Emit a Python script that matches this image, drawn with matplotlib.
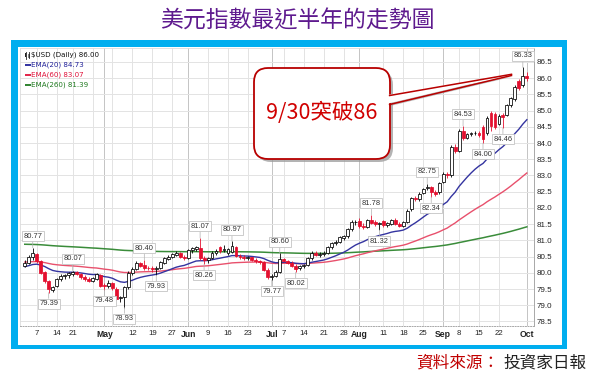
import matplotlib.pyplot as plt
import matplotlib.patches as mpatches
import numpy as np
import pandas as pd

plt.rcParams['font.family'] = ['DejaVu Sans', 'Noto Sans CJK TC']

# trading days shown (Apr 2 .. Oct 1, 2014), US holidays dropped
holidays = ['2014-04-18', '2014-05-26', '2014-07-04', '2014-09-01']
days = pd.bdate_range('2014-04-02', '2014-10-01')
days = days[~days.isin(pd.to_datetime(holidays))]

opens = [80.22, 80.30, 80.48, 80.58, 80.35, 80.02, 79.75, 79.48, 79.58, 79.80,
         79.90, 79.92, 79.96, 80.04, 79.97, 79.88, 79.80, 79.75, 79.82, 79.92,
         79.62, 79.58, 79.68, 79.50, 79.22, 79.25, 79.55, 79.98, 80.12, 80.30,
         80.24, 80.16, 80.14, 80.12, 80.16, 80.30, 80.44, 80.50, 80.56, 80.62,
         80.50, 80.46, 80.70, 80.74, 80.76, 80.45, 80.38, 80.45, 80.62, 80.80,
         80.70, 80.62, 80.64, 80.78, 80.52, 80.48, 80.46, 80.48, 80.40, 80.35,
         80.32, 80.10, 79.86, 79.90, 80.04, 80.42, 80.36, 80.30, 80.22, 80.15,
         80.20, 80.24, 80.45, 80.60, 80.56, 80.58, 80.62, 80.78, 80.92, 80.96,
         81.06, 81.12, 81.34, 81.56, 81.60, 81.45, 81.42, 81.62, 81.56, 81.50,
         81.60, 81.46, 81.50, 81.62, 81.50, 81.44, 81.58, 81.96, 82.30, 82.26,
         82.46, 82.62, 82.64, 82.50, 82.48, 82.80, 83.06, 83.00, 83.88, 83.76,
         84.38, 84.16, 84.28, 84.32, 84.30, 84.50, 84.30, 84.92, 84.90, 84.60,
         84.86, 84.86, 85.18, 85.36, 85.90, 85.78, 86.06]
highs = [80.38, 80.55, 80.77, 80.62, 80.38, 80.05, 79.78, 79.60, 79.85, 79.95,
         79.97, 80.02, 80.07, 80.06, 80.00, 79.92, 79.86, 79.88, 80.00, 79.95,
         79.70, 79.78, 79.72, 79.55, 79.30, 79.60, 80.05, 80.18, 80.36, 80.34,
         80.40, 80.22, 80.20, 80.22, 80.36, 80.50, 80.54, 80.62, 80.66, 80.64,
         80.54, 80.74, 80.80, 80.84, 81.07, 80.52, 80.50, 80.68, 80.72, 80.84,
         80.85, 80.76, 80.97, 80.82, 80.58, 80.55, 80.52, 80.50, 80.45, 80.40,
         80.36, 80.15, 79.95, 80.08, 80.60, 80.46, 80.40, 80.35, 80.26, 80.24,
         80.28, 80.50, 80.66, 80.66, 80.64, 80.66, 80.82, 80.96, 81.02, 81.14,
         81.16, 81.38, 81.62, 81.62, 81.70, 81.52, 81.66, 81.78, 81.62, 81.58,
         81.64, 81.58, 81.66, 81.68, 81.56, 81.60, 81.98, 82.34, 82.36, 82.50,
         82.62, 82.75, 82.68, 82.56, 82.80, 83.10, 83.12, 83.94, 83.98, 84.42,
         84.53, 84.32, 84.34, 84.38, 84.36, 84.56, 84.84, 85.00, 84.96, 84.88,
         84.92, 85.20, 85.42, 85.78, 85.96, 86.33, 86.18]
lows = [80.18, 80.26, 80.40, 80.30, 79.95, 79.70, 79.39, 79.42, 79.55, 79.75,
        79.82, 79.85, 79.90, 79.92, 79.82, 79.76, 79.72, 79.72, 79.78, 79.55,
        79.48, 79.52, 79.48, 79.15, 79.10, 78.93, 79.50, 79.94, 80.08, 80.18,
        80.10, 80.08, 80.04, 79.93, 80.12, 80.26, 80.38, 80.46, 80.52, 80.46,
        80.40, 80.44, 80.62, 80.66, 80.40, 80.26, 80.30, 80.42, 80.56, 80.62,
        80.65, 80.56, 80.60, 80.48, 80.42, 80.40, 80.40, 80.36, 80.30, 80.28,
        80.05, 79.82, 79.77, 79.86, 80.00, 80.32, 80.26, 80.18, 80.02, 80.10,
        80.14, 80.20, 80.40, 80.52, 80.50, 80.52, 80.58, 80.72, 80.86, 80.92,
        81.00, 81.08, 81.30, 81.48, 81.38, 81.36, 81.38, 81.50, 81.44, 81.32,
        81.40, 81.42, 81.46, 81.46, 81.40, 81.40, 81.54, 81.92, 82.20, 82.22,
        82.42, 82.56, 82.34, 82.38, 82.44, 82.76, 82.92, 82.96, 83.70, 83.72,
        84.10, 84.12, 84.22, 84.24, 84.18, 84.00, 84.26, 84.36, 84.44, 84.56,
        84.46, 84.82, 85.12, 85.30, 85.64, 85.74, 85.92]
closes = [80.30, 80.50, 80.60, 80.36, 80.00, 79.75, 79.50, 79.55, 79.80, 79.90,
          79.92, 79.98, 80.02, 79.95, 79.86, 79.80, 79.76, 79.84, 79.95, 79.60,
          79.58, 79.70, 79.52, 79.20, 79.25, 79.55, 80.00, 80.12, 80.30, 80.22,
          80.16, 80.14, 80.12, 80.16, 80.32, 80.46, 80.50, 80.58, 80.62, 80.50,
          80.46, 80.70, 80.76, 80.78, 80.45, 80.38, 80.45, 80.62, 80.68, 80.66,
          80.72, 80.72, 80.82, 80.52, 80.48, 80.46, 80.48, 80.40, 80.35, 80.33,
          80.10, 79.86, 79.90, 80.04, 80.42, 80.36, 80.30, 80.22, 80.12, 80.20,
          80.24, 80.45, 80.60, 80.56, 80.58, 80.62, 80.78, 80.92, 80.96, 81.10,
          81.12, 81.34, 81.56, 81.58, 81.45, 81.42, 81.62, 81.55, 81.50, 81.52,
          81.46, 81.52, 81.62, 81.50, 81.44, 81.56, 81.92, 82.30, 82.26, 82.44,
          82.58, 82.64, 82.50, 82.42, 82.76, 83.06, 83.00, 83.88, 83.76, 84.38,
          84.16, 84.28, 84.30, 84.30, 84.24, 84.12, 84.78, 84.52, 84.48, 84.84,
          84.80, 85.16, 85.38, 85.72, 85.70, 86.08, 86.00]

# EMA values on the first shown day
ema_start = {20: 80.19, 60: 80.33, 260: 80.88}

tick_dates = ['2014-04-07', '2014-04-14', '2014-04-21', '2014-05-01', '2014-05-12',
              '2014-05-19', '2014-05-27', '2014-06-02', '2014-06-09', '2014-06-16',
              '2014-06-23', '2014-07-01', '2014-07-07', '2014-07-14', '2014-07-21',
              '2014-07-28', '2014-08-01', '2014-08-11', '2014-08-18', '2014-08-25',
              '2014-09-02', '2014-09-08', '2014-09-15', '2014-09-22', '2014-10-01']
tick_labels = ['7', '14', '21', 'May', '12', '19', '27', 'Jun', '9', '16', '23',
               'Jul', '7', '14', '21', '28', 'Aug', '11', '18', '25', 'Sep', '8',
               '15', '22', 'Oct']
months = ['May', 'Jun', 'Jul', 'Aug', 'Sep', 'Oct']
extra_grid = ['2014-04-28', '2014-05-05']

high_marks = ['2014-04-04', '2014-04-21', '2014-05-15', '2014-06-05', '2014-06-17',
              '2014-07-03', '2014-08-06', '2014-08-26', '2014-09-09', '2014-09-30']
low_marks = ['2014-04-10', '2014-05-01', '2014-05-08', '2014-05-20', '2014-06-06',
             '2014-07-01', '2014-07-10', '2014-08-08', '2014-08-27', '2014-09-16',
             '2014-09-23']

RED = '#e3102f'
BLUE_FRAME = '#00aeef'

pos = np.arange(len(days)) + 1  # Apr 1 would sit at 0
o = np.array(opens); h = np.array(highs); l = np.array(lows); c = np.array(closes)


def where(d):
    return pos[days.get_loc(pd.Timestamp(d))]


def ema(vals, n, start):
    a = 2 / (n + 1)
    out = [start]
    for v in vals[1:]:
        out.append(out[-1] + a * (v - out[-1]))
    return np.array(out)


fig = plt.figure(figsize=(6, 3.81), dpi=100)

# background frame (pixel coords)
bg = fig.add_axes([0, 0, 1, 1], zorder=0)
bg.set_xlim(0, 600); bg.set_ylim(381, 0); bg.axis('off')
bg.add_patch(mpatches.Rectangle((11, 40), 556, 309, fc=BLUE_FRAME, ec='none'))
bg.add_patch(mpatches.Rectangle((18, 47), 544, 298, fc='white', ec='none'))

ax = fig.add_axes([20 / 600, 1 - 326 / 381, 514 / 600, 278 / 381], zorder=1)
ax.set_xlim(-0.2, 128.8)
ax.set_ylim(78.36, 86.93)

# grid
for d in tick_dates + extra_grid:
    lab = tick_labels[tick_dates.index(d)] if d in tick_dates else ''
    ax.axvline(where(d), color='#c4c4c4' if lab in months else '#e3e3e3', lw=0.7, zorder=0)
for yv in np.arange(78.5, 87.01, 0.5):
    ax.axhline(yv, color='#e3e3e3', lw=0.7, zorder=0)

# EMA lines
ax.plot(pos, ema(c, 260, ema_start[260]), color='#3a8c3a', lw=1.1, zorder=2)
ax.plot(pos, ema(c, 60, ema_start[60]), color='#e8506c', lw=1.0, zorder=2)
ax.plot(pos, ema(c, 20, ema_start[20]), color='#3434a0', lw=1.0, zorder=2)

# candles
prev = np.concatenate([[o[0]], c[:-1]])
col = np.where(c >= prev, 'black', RED)
face = np.where(c >= o, 'white', col)
ax.vlines(pos, l, h, colors=col, lw=0.6, zorder=3)
ax.bar(pos, np.maximum(np.abs(c - o), 0.012), bottom=np.minimum(o, c), width=0.72,
       color=face, edgecolor=col, linewidth=0.55, zorder=4)

# high / low callouts
box = dict(boxstyle='square,pad=0.2', fc='white', ec='#c4c4c4', lw=0.6)
for d in high_marks:
    i = days.get_loc(pd.Timestamp(d))
    ax.annotate(f'{h[i]:.2f}', xy=(pos[i], h[i]), xytext=(0, 8.5), textcoords='offset points',
                ha='center', va='center', fontsize=5.4, color='#333333', family='Liberation Sans',
                bbox=box, arrowprops=dict(arrowstyle='-', color='#b0b0b0', lw=0.5, shrinkA=0, shrinkB=0),
                zorder=6)
for d in low_marks:
    i = days.get_loc(pd.Timestamp(d))
    ax.annotate(f'{l[i]:.2f}', xy=(pos[i], l[i]), xytext=(0, -8), textcoords='offset points',
                ha='center', va='center', fontsize=5.4, color='#333333', family='Liberation Sans',
                bbox=box, arrowprops=dict(arrowstyle='-', color='#b0b0b0', lw=0.5, shrinkA=0, shrinkB=0),
                zorder=6)

ax.set_xticks([where(d) for d in tick_dates])
ax.set_xticklabels(tick_labels, family='Liberation Sans', fontsize=5.6, color='#222222')
for t in ax.get_xticklabels():
    if t.get_text() in months:
        t.set_fontweight('bold')
        t.set_fontsize(6.2)
ax.set_yticks(np.arange(78.5, 86.51, 0.5))
ax.set_yticklabels([f'{v:.1f}' for v in np.arange(78.5, 86.51, 0.5)],
                   family='Liberation Sans', fontsize=5.8, color='#222222')
ax.yaxis.tick_right()
ax.tick_params(axis='both', length=0)
ax.tick_params(axis='x', pad=3)
ax.tick_params(axis='y', pad=2)
for s in ['left', 'top']:
    ax.spines[s].set_color('#dcdcdc'); ax.spines[s].set_linewidth(0.6)
ax.spines['right'].set_color('#a8a8a8'); ax.spines['right'].set_linewidth(0.7)
ax.spines['bottom'].set_color('#a8a8a8'); ax.spines['bottom'].set_linestyle(':')
ax.spines['bottom'].set_linewidth(0.7)

# overlay (pixel coords)
ov = fig.add_axes([0, 0, 1, 1], zorder=3)
ov.set_xlim(0, 600); ov.set_ylim(381, 0); ov.axis('off')

ov.text(297, 21, '美元指數最近半年的走勢圖', ha='center', va='center', fontsize=16.5,
        color='#5e1a8e', family=['Noto Sans CJK TC'])

# legend block
ov.plot([25.5, 25.5], [51.5, 58.5], color='#222222', lw=0.6)
ov.add_patch(mpatches.Rectangle((24.8, 53), 1.4, 3.5, fc='#222222', ec='none'))
ov.plot([28.5, 28.5], [52, 58], color='#222222', lw=0.6)
ov.add_patch(mpatches.Rectangle((27.8, 53.5), 1.4, 3, fc='white', ec='#222222', lw=0.4))
ov.text(31, 55, '$USD (Daily) 86.00', fontsize=5.1, va='center', color='#111111')
legend_rows = [(65, '#22229a', 'EMA(20) 84.73'), (74.5, '#e0123a', 'EMA(60) 83.07'),
               (84.5, '#1f7a1f', 'EMA(260) 81.39')]
for yy, cc, txt in legend_rows:
    ov.plot([24.5, 30.5], [yy, yy], color=cc, lw=1.3, solid_capstyle='butt')
    ov.text(31, yy, txt, fontsize=5.1, va='center', color=cc)

# callout box with tail
ov.add_patch(mpatches.FancyBboxPatch((257, 71), 136, 91, boxstyle='round,pad=0,rounding_size=14',
                                     fc='#9a9a9a', ec='none', alpha=0.75))
ov.add_patch(mpatches.Polygon([(386, 98), (513, 76.5), (386, 107)], closed=True,
                              fc='#a0a0a0', ec='none', alpha=0.7))
ov.add_patch(mpatches.FancyBboxPatch((254, 68), 136, 91, boxstyle='round,pad=0,rounding_size=14',
                                     fc='white', ec='#b80000', lw=1.3))
ov.add_patch(mpatches.Polygon([(384, 95.5), (511.5, 74.3), (384, 104.5)], closed=True,
                              fc='white', ec='none'))
ov.plot([389.6, 511.5], [95.5, 74.3], color='#b80000', lw=1.1)
ov.plot([389.6, 511.5], [104.5, 75.5], color='#b80000', lw=1.1)
ov.text(322, 113, '9/30突破86', ha='center', va='center', fontsize=15.5, color='#d00000',
        family=['Noto Sans CJK TC'])

# source
ov.text(416.5, 363, '資料來源：', ha='left', va='center', fontsize=12, color='#c00000',
        family=['Noto Sans CJK TC'])
ov.text(503, 363, '投資家日報', ha='left', va='center', fontsize=12, color='#222222',
        family=['Noto Sans CJK TC'])

fig.savefig('out.png', dpi=100)
